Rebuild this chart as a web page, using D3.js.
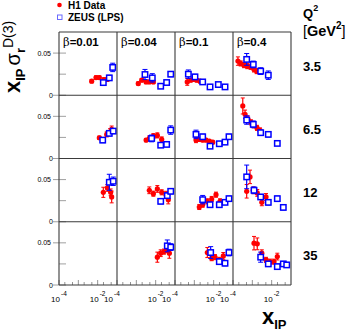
<!DOCTYPE html>
<html>
<head>
<meta charset="utf-8">
<script src="https://cdn.jsdelivr.net/npm/d3@7"></script>
<style>
  body { margin: 0; background: #fff; }
  svg { display: block; font-family: "Liberation Sans", Arial, Helvetica, sans-serif; }
</style>
</head>
<body>
<svg width="348" height="332"></svg>
<script>
// beta bins (columns) and Q2 bins (rows)
var betas = ["0.01", "0.04", "0.1", "0.4"];
var q2Bins = ["3.5", "6.5", "12", "35"];

// H1 points, indexed [Q2 row][beta column]
var h1X = [
  [[0.0049, 0.0082, 0.0122, 0.0213, 0.0316], [0.00126, 0.0019, 0.0032, 0.0047, 0.0076], [0.00043, 0.00065, 0.00089, 0.00133, 0.00197, 0.0029], [0.00018, 0.00025, 0.00037, 0.00055, 0.00082, 0.00122, 0.00168]],
  [[0.0122, 0.0294, 0.0435, 0.053], [0.0032, 0.0047, 0.0076, 0.0122, 0.0205], [0.00122, 0.0018, 0.0027, 0.004, 0.0059, 0.0089], [0.00032, 0.00042, 0.0006, 0.00085, 0.00122, 0.00175, 0.0025]],
  [[0.0196, 0.0316, 0.047, 0.053], [0.0047, 0.0076, 0.0122, 0.0205, 0.0343, 0.045], [0.0018, 0.0027, 0.0047, 0.0079, 0.0132, 0.0213], [0.00051, 0.00076, 0.00112, 0.0018, 0.0031, 0.0051]],
  [[], [0.0122, 0.0182, 0.027, 0.037, 0.051], [0.0047, 0.0079, 0.0117, 0.0196, 0.0316], [0.00122, 0.0018, 0.0031, 0.0051, 0.0082, 0.0132, 0.0196]]
];
var h1Y = [
  [[0.0167, 0.021, 0.021, 0.0187, 0.0187], [0.0139, 0.0179, 0.0158, 0.0158, 0.0158], [0.0158, 0.0179, 0.0187, 0.0179, 0.0167, 0.0151], [0.0405, 0.0377, 0.0357, 0.0345, 0.0337, 0.0306, 0.0286]],
  [[0.0246, 0.0286, 0.0313, 0.0345], [0.0218, 0.0238, 0.0265, 0.0274, 0.0226], [0.0218, 0.0226, 0.0218, 0.0218, 0.0206, 0.0194], [0.0623, 0.0524, 0.0464, 0.0429, 0.0393, 0.0363, 0.0333]],
  [[0.0349, 0.0401, 0.0349, 0.0294], [0.0373, 0.0333, 0.0389, 0.0349, 0.0321, 0.0262], [0.0175, 0.0202, 0.0242, 0.027, 0.0321, 0.0242], [0.0361, 0.0532, 0.0373, 0.0342, 0.023, 0.0294]],
  [[], [0.033, 0.0377, 0.0396, 0.0425, 0.0377], [0.0385, 0.0318, 0.033, 0.0298, 0.0345], [0.0496, 0.0488, 0.0377, 0.0298, 0.0277, 0.0277, 0.0337]]
];
var h1Err = [
  [[0.002, 0.002, 0.002, 0.002, 0.002], [0.002, 0.002, 0.002, 0.002, 0.002], [0.004, 0.002, 0.002, 0.002, 0.002, 0.002], [0.005, 0.003, 0.003, 0.003, 0.003, 0.003, 0.003]],
  [[0.002, 0.003, 0.004, 0.004], [0.002, 0.003, 0.003, 0.003, 0.003], [0.003, 0.002, 0.002, 0.002, 0.002, 0.002], [0.0095, 0.005, 0.004, 0.003, 0.003, 0.003, 0.003]],
  [[0.006, 0.004, 0.004, 0.007], [0.004, 0.003, 0.004, 0.003, 0.004, 0.005], [0.003, 0.003, 0.003, 0.003, 0.003, 0.003], [0.008, 0.008, 0.004, 0.004, 0.004, 0.004]],
  [[], [0.006, 0.004, 0.003, 0.004, 0.006], [0.006, 0.003, 0.003, 0.003, 0.004], [0.008, 0.007, 0.004, 0.003, 0.003, 0.003, 0.004]]
];

// ZEUS (LPS) points, same layout
var zeusX = [
  [[0.0196, 0.04, 0.06], [0.0028, 0.0067, 0.0182, 0.037, 0.06], [0.00049, 0.00108, 0.0027, 0.0065, 0.0174, 0.0387], [0.00051, 0.00112, 0.0027, 0.0067]],
  [[0.0182, 0.04, 0.064], [0.0062, 0.0182, 0.037, 0.06], [0.00122, 0.0027, 0.0065, 0.0196, 0.0387, 0.062], [0.00051, 0.00112, 0.0027, 0.0067, 0.0196]],
  [[0.04, 0.064], [0.0182, 0.04, 0.06], [0.0027, 0.0065, 0.0196, 0.0387, 0.062], [0.00051, 0.00122, 0.0027, 0.0067, 0.0196, 0.04]],
  [[], [0.04, 0.06], [0.007, 0.0196, 0.0387, 0.062], [0.0027, 0.0067, 0.0196, 0.04, 0.06]]
];
var zeusY = [
  [[0.015, 0.0206, 0.033], [0.0246, 0.0206, 0.0107, 0.0151, 0.025], [0.025, 0.0218, 0.0158, 0.0099, 0.0127, 0.0099], [0.0425, 0.0365, 0.0286, 0.0238]],
  [[0.0218, 0.0298, 0.0325], [0.0238, 0.0158, 0.0167, 0.0337], [0.0286, 0.0258, 0.0146, 0.0175, 0.0194, 0.0258], [0.0456, 0.0405, 0.0306, 0.0286, 0.0179]],
  [[0.0468, 0.048], [0.0242, 0.031, 0.0361], [0.0262, 0.0202, 0.0202, 0.023, 0.0274], [0.0532, 0.0373, 0.0294, 0.023, 0.0274, 0.017]],
  [[], [0.0464, 0.0449], [0.0385, 0.0277, 0.0258, 0.0385], [0.033, 0.025, 0.0218, 0.025, 0.0238]]
];
var zeusErr = [
  [[0.002, 0.003, 0.005], [0.006, 0.005, 0.002, 0.002, 0.003], [0.005, 0.003, 0.002, 0.002, 0.002, 0.002], [0.007, 0.004, 0.004, 0.005]],
  [[0.003, 0.003, 0.003], [0.004, 0.002, 0.002, 0.005], [0.005, 0.003, 0.002, 0.002, 0.002, 0.003], [0.005, 0.004, 0.003, 0.003, 0.002]],
  [[0.0095, 0.005], [0.003, 0.003, 0.003], [0.005, 0.002, 0.002, 0.002, 0.003], [0.014, 0.004, 0.003, 0.003, 0.003, 0.003]],
  [[], [0.007, 0.004], [0.007, 0.003, 0.003, 0.004], [0.006, 0.003, 0.003, 0.003, 0.003]]
];

var svg = d3.select("svg");

var col = d3.scaleBand().domain(d3.range(4)).range([59, 291]);
var row = d3.scaleBand().domain(d3.range(4)).range([32, 285]);

var x = d3.scaleLog().domain([1e-4, 1e-1]).range([0, col.bandwidth()]);
var y = d3.scaleLinear().domain([0, 0.075]).range([row.bandwidth(), 0]);

var frameColor = "#3a3a3a";

// panels
for (var r = 0; r < 4; r++) {
  for (var c = 0; c < 4; c++) {
    var g = svg.append("g")
      .attr("transform", "translate(" + col(c) + "," + row(r) + ")");

    var pts = [];
    h1X[r][c].forEach(function(v, i) {
      pts.push({ set: "h1", x: v, y: h1Y[r][c][i], e: h1Err[r][c][i] });
    });
    var zpts = [];
    zeusX[r][c].forEach(function(v, i) {
      zpts.push({ set: "zeus", x: v, y: zeusY[r][c][i], e: zeusErr[r][c][i] });
    });

    // H1: red dots with error bars
    var h = g.append("g").selectAll("g").data(pts).enter().append("g");
    h.append("line")
      .attr("x1", function(d) { return x(d.x); })
      .attr("x2", function(d) { return x(d.x); })
      .attr("y1", function(d) { return y(d.y - d.e); })
      .attr("y2", function(d) { return y(d.y + d.e); })
      .attr("stroke", "#ff0000").attr("stroke-width", 1.2);
    h.selectAll(".cap").data(function(d) { return [d.y - d.e, d.y + d.e].map(function(v) { return { x: d.x, v: v }; }); })
      .enter().append("line")
      .attr("x1", function(d) { return x(d.x) - 2; })
      .attr("x2", function(d) { return x(d.x) + 2; })
      .attr("y1", function(d) { return y(d.v); })
      .attr("y2", function(d) { return y(d.v); })
      .attr("stroke", "#ff0000").attr("stroke-width", 1);
    h.append("circle")
      .attr("cx", function(d) { return x(d.x); })
      .attr("cy", function(d) { return y(d.y); })
      .attr("r", 2.6)
      .attr("fill", "#ff0000");

    // ZEUS: open blue squares with error bars
    var z = g.append("g").selectAll("g").data(zpts).enter().append("g");
    z.append("line")
      .attr("x1", function(d) { return x(d.x); })
      .attr("x2", function(d) { return x(d.x); })
      .attr("y1", function(d) { return y(d.y - d.e); })
      .attr("y2", function(d) { return y(d.y + d.e); })
      .attr("stroke", "#0000ff").attr("stroke-width", 1.2);
    z.selectAll(".cap").data(function(d) { return [d.y - d.e, d.y + d.e].map(function(v) { return { x: d.x, v: v }; }); })
      .enter().append("line")
      .attr("x1", function(d) { return x(d.x) - 2.5; })
      .attr("x2", function(d) { return x(d.x) + 2.5; })
      .attr("y1", function(d) { return y(d.v); })
      .attr("y2", function(d) { return y(d.v); })
      .attr("stroke", "#0000ff").attr("stroke-width", 1);
    z.append("rect")
      .attr("x", function(d) { return x(d.x) - 2.7; })
      .attr("y", function(d) { return y(d.y) - 2.7; })
      .attr("width", 5.4).attr("height", 5.4)
      .attr("fill", "#fff")
      .attr("stroke", "#0000ff").attr("stroke-width", 1.5);

    // x ticks along the bottom row
    if (r === 3) {
      var tv = [];
      [-4, -3, -2].forEach(function(p) {
        [1, 2, 5].forEach(function(m) { tv.push(m * Math.pow(10, p)); });
      });
      g.selectAll(".xt").data(tv).enter().append("line")
        .attr("x1", function(d) { return x(d); })
        .attr("x2", function(d) { return x(d); })
        .attr("y1", row.bandwidth())
        .attr("y2", function(d, i) { return row.bandwidth() - (i % 3 === 0 ? 5 : 3); })
        .attr("stroke", "#777").attr("stroke-width", 0.8);

      [[1e-4, "-4"], [1e-2, "-2"]].forEach(function(t, i) {
        var shift = (i === 0 && c > 0) ? -5 : 0;
        g.append("text")
          .attr("x", x(t[0]) + shift + 1)
          .attr("y", row.bandwidth() + 17)
          .attr("text-anchor", "end")
          .attr("font-size", 8)
          .text("10");
        g.append("text")
          .attr("x", x(t[0]) + shift + 2)
          .attr("y", row.bandwidth() + 11)
          .attr("font-size", 6.5)
          .text(t[1]);
      });
    }

    // y ticks on the first column
    if (c === 0) {
      [0, 0.025, 0.05].forEach(function(v) {
        var major = v !== 0.025;
        g.append("line")
          .attr("x1", major ? -6 : 0).attr("x2", 7)
          .attr("y1", y(v)).attr("y2", y(v))
          .attr("stroke", "#888").attr("stroke-width", 0.8);
      });
      g.append("text").attr("x", -8).attr("y", y(0.05) + 2.5)
        .attr("text-anchor", "end").attr("font-size", 7).text("0.05");
      g.append("text").attr("x", -6).attr("y", y(0) + 2.5)
        .attr("text-anchor", "end").attr("font-size", 7).text("0");
    }
  }
}

// frame and grid lines
var grid = svg.append("g").attr("stroke", frameColor).attr("stroke-width", 1.1);
d3.range(5).forEach(function(i) {
  var gx = i < 4 ? col(i) : col(3) + col.bandwidth();
  grid.append("line").attr("x1", gx).attr("x2", gx).attr("y1", 32).attr("y2", 285);
  var gy = i < 4 ? row(i) : row(3) + row.bandwidth();
  grid.append("line").attr("x1", 59).attr("x2", 291).attr("y1", gy).attr("y2", gy);
});

// beta labels
betas.forEach(function(b, i) {
  var t = svg.append("text")
    .attr("x", col(i) + 4)
    .attr("y", 46)
    .attr("font-size", 11.5)
    .attr("font-weight", "bold");
  t.append("tspan").attr("font-family", "DejaVu Serif, serif").attr("font-weight", "normal").text("β");
  t.append("tspan").text("=" + b);
});

// Q2 labels on the right
q2Bins.forEach(function(q, i) {
  svg.append("text")
    .attr("x", 303)
    .attr("y", row(i) + row.bandwidth() / 2 + 7)
    .attr("font-size", 13)
    .attr("font-weight", "bold")
    .text(q);
});

var qt = svg.append("text").attr("x", 303).attr("y", 18)
  .attr("font-size", 13).attr("font-weight", "bold");
qt.append("tspan").text("Q");
qt.append("tspan").attr("font-size", 9).attr("dy", -7).text("2");

var gt = svg.append("text").attr("x", 303).attr("y", 36)
  .attr("font-size", 14.5).attr("font-weight", "bold");
gt.append("tspan").attr("font-weight", "normal").text("[");
gt.append("tspan").text("GeV");
gt.append("tspan").attr("font-size", 10).attr("dy", -7).text("2");
gt.append("tspan").attr("dy", 7).attr("font-weight", "normal").text("]");

// legend
svg.append("circle").attr("cx", 59.5).attr("cy", 5).attr("r", 2.3).attr("fill", "#ff0000");
svg.append("text").attr("x", 68).attr("y", 9).attr("font-size", 10).attr("font-weight", "bold").text("H1 Data");
svg.append("rect").attr("x", 57.5).attr("y", 15).attr("width", 4.5).attr("height", 4.5)
  .attr("fill", "none").attr("stroke", "#6a6aff").attr("stroke-width", 1);
svg.append("text").attr("x", 68).attr("y", 21).attr("font-size", 10).attr("font-weight", "bold").text("ZEUS (LPS)");

// y axis title
var yt = svg.append("text")
  .attr("transform", "translate(20,93) rotate(-90)")
  .attr("font-weight", "bold");
yt.append("tspan").attr("font-size", 22).text("x");
yt.append("tspan").attr("font-size", 13).attr("dy", 5).text("IP");
yt.append("tspan").attr("font-size", 20).attr("dy", -5).attr("dx", 3).attr("font-weight", "normal").text("σ");
yt.append("tspan").attr("font-size", 13).attr("dy", 5).text("r");
yt.append("tspan").attr("font-size", 14).attr("dy", -12).attr("font-weight", "normal").text("D(3)");

// x axis title
var xt = svg.append("text").attr("x", 262).attr("y", 324).attr("font-weight", "bold");
xt.append("tspan").attr("font-size", 22).text("x");
xt.append("tspan").attr("font-size", 13).attr("dy", 5).text("IP");
</script>
</body>
</html>
